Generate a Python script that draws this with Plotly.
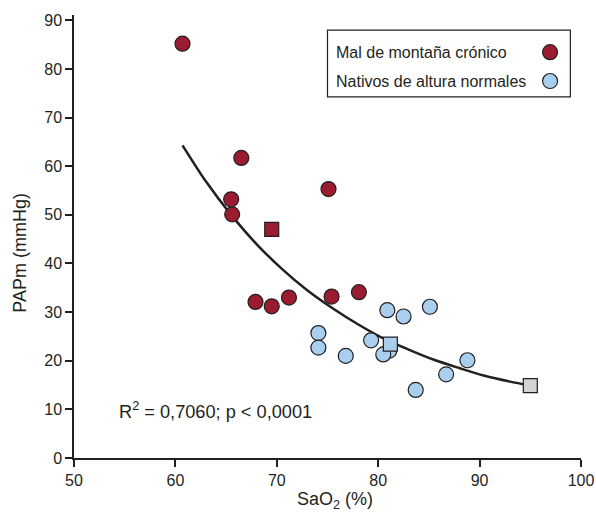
import plotly.graph_objects as go

# Data
cms_x = [60.7, 66.5, 65.5, 65.6, 67.9, 69.5, 71.2, 75.1, 75.4, 78.1]
cms_y = [85.2, 61.7, 53.2, 50.1, 32.1, 31.2, 33.0, 55.3, 33.2, 34.1]
cms_mean_x = [69.5]
cms_mean_y = [47.0]

nat_x = [74.1, 74.1, 76.8, 79.3, 81.1, 80.5, 80.9, 82.5, 85.1, 83.7, 86.7, 88.8]
nat_y = [25.7, 22.7, 21.0, 24.2, 22.1, 21.3, 30.4, 29.1, 31.1, 14.0, 17.2, 20.1]
nat_mean_x = [81.2]
nat_mean_y = [23.4]

sea_x = [95.0]
sea_y = [14.9]

# Fitted curve, read along its length
fit_x = [60.7, 63.0, 65.5, 68.0, 70.5, 73.0, 75.5, 78.0, 80.5, 83.0, 85.5, 88.0, 90.5, 93.0, 95.0]
fit_y = [64.3, 56.9, 50.0, 44.0, 38.9, 34.5, 30.8, 27.5, 24.6, 22.3, 20.2, 18.5, 16.9, 15.7, 14.9]

legend_labels = ["Mal de montaña crónico", "Nativos de altura normales"]
x_ticks = [50, 60, 70, 80, 90, 100]
y_ticks = [0, 10, 20, 30, 40, 50, 60, 70, 80, 90]

RED = "#9B1B30"
BLUE = "#AACFEE"
GRAY = "#D4D4D4"
INK = "#231F20"
FONT = "Liberation Sans, Arial, sans-serif"

fig = go.Figure()

fig.add_trace(go.Scatter(x=fit_x, y=fit_y, mode="lines",
                         line=dict(color=INK, width=2.5, shape="spline", smoothing=0.8),
                         showlegend=False, hoverinfo="skip"))

mk_line = dict(color=INK, width=1.2)
fig.add_trace(go.Scatter(x=nat_x, y=nat_y, mode="markers",
                         marker=dict(symbol="circle", size=15, color=BLUE, line=mk_line),
                         showlegend=False))
fig.add_trace(go.Scatter(x=cms_x, y=cms_y, mode="markers",
                         marker=dict(symbol="circle", size=15, color=RED, line=mk_line),
                         showlegend=False))
fig.add_trace(go.Scatter(x=cms_mean_x, y=cms_mean_y, mode="markers",
                         marker=dict(symbol="square", size=14, color=RED, line=mk_line),
                         showlegend=False))
fig.add_trace(go.Scatter(x=nat_mean_x, y=nat_mean_y, mode="markers",
                         marker=dict(symbol="square", size=14, color=BLUE, line=mk_line),
                         showlegend=False))
fig.add_trace(go.Scatter(x=sea_x, y=sea_y, mode="markers",
                         marker=dict(symbol="square", size=14, color=GRAY, line=mk_line),
                         showlegend=False))

# Custom legend (markers on the right of the text)
leg_y = [0.916, 0.851]
fig.add_trace(go.Scatter(x=[0.939, 0.939], y=leg_y, mode="markers", xaxis="x2", yaxis="y2",
                         marker=dict(symbol="circle", size=15, color=[RED, BLUE], line=mk_line),
                         showlegend=False, hoverinfo="skip"))
fig.add_shape(type="rect", xref="paper", yref="paper", x0=0.500, x1=0.979, y0=0.815, y1=0.966,
              line=dict(color=INK, width=1.2), fillcolor="rgba(0,0,0,0)")
for lab, yy in zip(legend_labels, leg_y):
    fig.add_annotation(x=0.512, y=yy, xref="paper", yref="paper", text=lab, showarrow=False,
                       xanchor="left", yanchor="middle", font=dict(size=16, color=INK, family=FONT))

fig.add_annotation(x=54.2, y=9.8, xref="x", yref="y",
                   text="R<sup>2</sup> = 0,7060; p < 0,0001", showarrow=False,
                   xanchor="left", yanchor="middle", font=dict(size=18.2, color=INK, family=FONT))

# Axis titles
fig.add_annotation(x=-0.106, y=0.464, xref="paper", yref="paper", text="PAPm (mmHg)",
                   textangle=-90, showarrow=False, xanchor="center", yanchor="middle",
                   font=dict(size=18, color=INK, family=FONT))
fig.add_annotation(x=0.514, y=-0.097, xref="paper", yref="paper", text="SaO<sub>2</sub> (%)",
                   showarrow=False, xanchor="center", yanchor="middle",
                   font=dict(size=18, color=INK, family=FONT))

axis_common = dict(showgrid=False, zeroline=False, showline=True, linecolor=INK, linewidth=1.5,
                   ticks="outside", ticklen=7, tickwidth=1.5, tickcolor=INK, automargin=False,
                   tickfont=dict(size=16, color=INK, family=FONT))

fig.update_layout(
    width=596, height=515,
    margin=dict(l=74.3, r=14.7, t=15, b=57, autoexpand=False),
    paper_bgcolor="white", plot_bgcolor="white",
    font=dict(family=FONT, color=INK),
    xaxis=dict(range=[50, 100], tickvals=x_ticks, **axis_common),
    yaxis=dict(range=[0, 91.1], tickvals=y_ticks, **axis_common),
    xaxis2=dict(range=[0, 1], overlaying="x", visible=False),
    yaxis2=dict(range=[0, 1], overlaying="y", visible=False),
    showlegend=False,
)

fig.write_html("out.html", config={"displayModeBar": False},
               post_script="document.body.style.margin='0';")
